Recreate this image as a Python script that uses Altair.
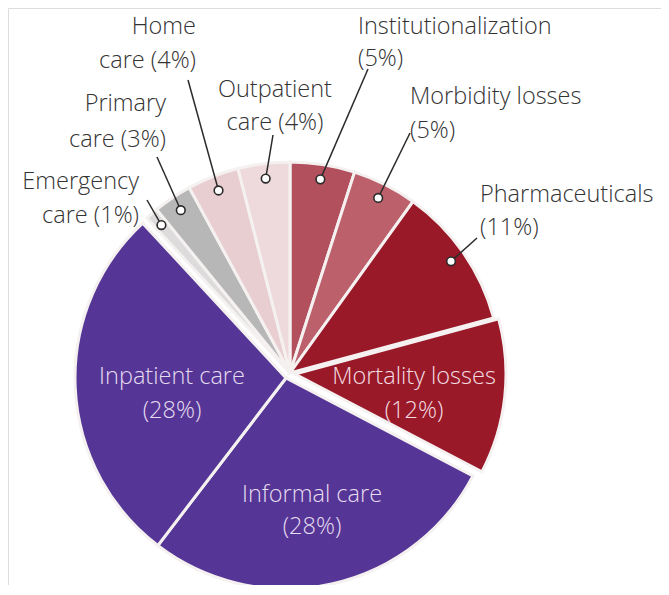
import math
import altair as alt
import pandas as pd

# ---- data (clockwise from 12 o'clock) ----
categories = ["Institutionalization", "Morbidity losses", "Pharmaceuticals",
              "Mortality losses", "Informal care", "Inpatient care",
              "Emergency care", "Primary care", "Home care", "Outpatient care"]
shares = [5, 5, 11, 12, 28, 28, 1, 3, 4, 4]
line_one = ["Institutionalization", "Morbidity losses", "Pharmaceuticals",
            "Mortality losses", "Informal care", "Inpatient care",
            "Emergency", "Primary", "Home", "Outpatient"]
line_two_prefix = ["", "", "", "", "", "", "care ", "care ", "care ", "care "]

# ---- styling / layout ----
colors = ["#b3505e", "#bc606c", "#9a1929", "#9a1929", "#553696", "#553696",
          "#dddbdb", "#b8b7b7", "#e8cdd1", "#eed9dc"]
# slice group centre offsets (px, relative to pie centre page (290, 375))
off_x = [0, 0, 0, 5, -4, -4, 0, 0, 0, 0]
off_y = [2, 2, 2, 1, -3, -3, 2, 2, 2, 2]
# label anchors in page pixels
lab_x = [358, 410, 480, 414, 312, 172, 139, 166, 196, 275]
lab_y1 = [34, 104, 202, 384, 502, 384, 189, 111, 34, 97]
lab_y2 = [66, 138, 235, 418, 534, 418, 223, 147, 68, 130]
lab_align = ["left", "left", "left", "center", "center", "center",
             "right", "right", "right", "center"]
lab_color = ["#333333"] * 3 + ["#f3dde2", "#e6dcf0", "#e6dcf0"] + ["#333333"] * 4
inside = [False, False, False, True, True, True, False, False, False, False]
# leader line start points (page pixels)
lead_x = [368, 410, 477, None, None, None, 147, 157, 188, 273]
lead_y = [69, 133, 238, None, None, None, 200, 157, 80, 135]

CX, CY = 290, 375          # pie centre on the page
R = 211                    # pie radius
DOT_R = 196                # radius at which leader dots sit

W, H = 653, 577
xdom = [8 - CX, 8 + W - CX]
ydom = [CY - (8 + H), CY - 8]
xs = alt.Scale(domain=xdom, range=[0, W])
ys = alt.Scale(domain=ydom, range=[H, 0])

total = sum(shares)
rows, lab_rows, dot_rows = [], [], []
cum = 0.0
for i, c in enumerate(categories):
    t0 = cum / total * 2 * math.pi
    cum += shares[i]
    t1 = cum / total * 2 * math.pi
    tm = (t0 + t1) / 2
    rows.append(dict(cat=c, t0=t0, t1=t1, ox=off_x[i], oy=off_y[i], col=colors[i]))
    for txt, py in ((line_one[i], lab_y1[i]),
                    (f"{line_two_prefix[i]}({shares[i]}%)", lab_y2[i])):
        lab_rows.append(dict(text=txt, x=lab_x[i] - CX, y=CY - py,
                             align=lab_align[i], col=lab_color[i]))
    if not inside[i]:
        dx = off_x[i] + DOT_R * math.sin(tm)
        dy = off_y[i] + DOT_R * math.cos(tm)
        dot_rows.append(dict(cat=c, x=dx, y=dy,
                             x2=lead_x[i] - CX, y2=CY - lead_y[i]))

slices = pd.DataFrame(rows)
labels = pd.DataFrame(lab_rows)
dots = pd.DataFrame(dot_rows)

arcs = alt.Chart(slices).mark_arc(radius=R, stroke="#f5f1f1", strokeWidth=3).encode(
    x=alt.X("ox:Q", scale=xs, axis=None),
    y=alt.Y("oy:Q", scale=ys, axis=None),
    theta=alt.Theta("t0:Q", scale=None),
    theta2="t1:Q",
    color=alt.Color("col:N", scale=None),
)

leaders = alt.Chart(dots).mark_rule(color="#2b2b2b", strokeWidth=1.5).encode(
    x=alt.X("x:Q", scale=xs, axis=None),
    y=alt.Y("y:Q", scale=ys, axis=None),
    x2="x2:Q", y2="y2:Q",
)

points = alt.Chart(dots).mark_point(shape="circle", filled=True, fill="white",
                                    stroke="#2b2b2b", strokeWidth=1.6, size=75,
                                    opacity=1).encode(
    x=alt.X("x:Q", scale=xs, axis=None),
    y=alt.Y("y:Q", scale=ys, axis=None),
)

text_layers = []
for a in ["left", "center", "right"]:
    text_layers.append(
        alt.Chart(labels).transform_filter(alt.datum.align == a)
        .mark_text(align=a, baseline="alphabetic", font="Open Sans",
                   fontSize=23.5, fontWeight=300)
        .encode(
            x=alt.X("x:Q", scale=xs, axis=None),
            y=alt.Y("y:Q", scale=ys, axis=None),
            text="text:N",
            color=alt.Color("col:N", scale=None),
        )
    )

chart = alt.layer(arcs, leaders, points, *text_layers).properties(
    width=W, height=H,
    autosize=alt.AutoSizeParams(type="none"),
    padding=0,
).configure_view(stroke="transparent", strokeWidth=0).configure(background="white")

chart.save("out.html", embed_options={"renderer": "svg", "actions": False})
